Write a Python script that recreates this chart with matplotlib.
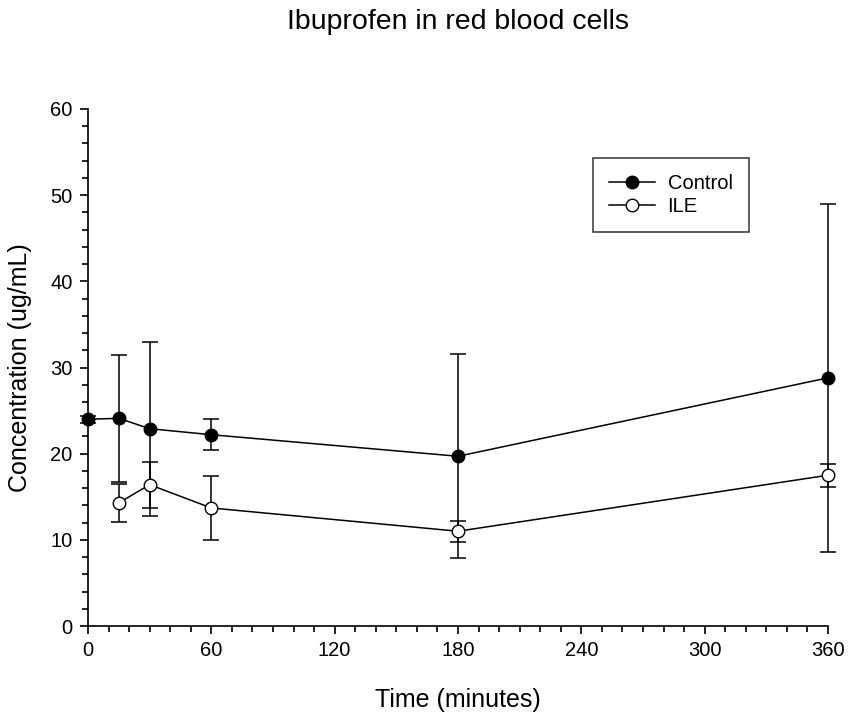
import matplotlib
matplotlib.use("Agg")
import matplotlib.pyplot as plt
from matplotlib.ticker import MultipleLocator

plt.rcParams['font.family'] = ['Liberation Sans', 'DejaVu Sans']

# Control group
control_time = [0, 15, 30, 60, 180, 360]
control_conc = [24.0, 24.1, 22.9, 22.2, 19.7, 28.8]
control_err = [0.4, 7.4, 10.1, 1.8, 11.85, 20.2]

# ILE group
ile_time = [15, 30, 60, 180, 360]
ile_conc = [14.3, 16.4, 13.7, 11.0, 17.5]
ile_err = [2.2, 2.65, 3.7, 1.2, 1.35]

fig = plt.figure(figsize=(8.51, 7.18), dpi=100)
ax = fig.add_axes([0.1034, 0.1281, 0.8696, 0.7201])

ctrl = ax.errorbar(control_time, control_conc, yerr=control_err, color='black', marker='o',
                   markersize=9, markerfacecolor='black', markeredgecolor='black',
                   linewidth=1.1, elinewidth=1.1, capsize=5.5, capthick=1.1, label='Control',
                   clip_on=False, zorder=3)
ile = ax.errorbar(ile_time, ile_conc, yerr=ile_err, color='black', marker='o',
                  markersize=9, markerfacecolor='white', markeredgecolor='black',
                  linewidth=1.1, elinewidth=1.1, capsize=5.5, capthick=1.1, label='ILE',
                  clip_on=False, zorder=3)

ax.set_xlim(0, 360)
ax.set_ylim(0, 60)
ax.xaxis.set_major_locator(MultipleLocator(60))
ax.xaxis.set_minor_locator(MultipleLocator(10))
ax.yaxis.set_major_locator(MultipleLocator(10))
ax.yaxis.set_minor_locator(MultipleLocator(2))

for side in ['top', 'right']:
    ax.spines[side].set_visible(False)
for side in ['left', 'bottom']:
    ax.spines[side].set_linewidth(1.2)

ax.tick_params(which='major', direction='out', length=6, width=1.2, labelsize=14.5, pad=5)
ax.tick_params(which='minor', direction='out', length=4, width=1.2)

ax.set_xlabel('Time (minutes)', fontsize=18, labelpad=20)
ax.set_ylabel('Concentration (ug/mL)', fontsize=18, labelpad=13)
# title centred over the plot area, near the top edge
fig.text(0.538, 0.988, 'Ibuprofen in red blood cells', ha='center', va='top', fontsize=20.5)

leg = ax.legend(handles=[ctrl[0], ile[0]], labels=['Control', 'ILE'],
                loc='upper left', bbox_to_anchor=(0.6824, 0.905), fontsize=14.5,
                frameon=True, fancybox=False, borderpad=0.8, handlelength=2.3,
                handletextpad=0.6, labelspacing=0.2, borderaxespad=0)
leg.get_frame().set_edgecolor('black')
leg.get_frame().set_linewidth(1.1)

fig.savefig('out.png', dpi=100)
